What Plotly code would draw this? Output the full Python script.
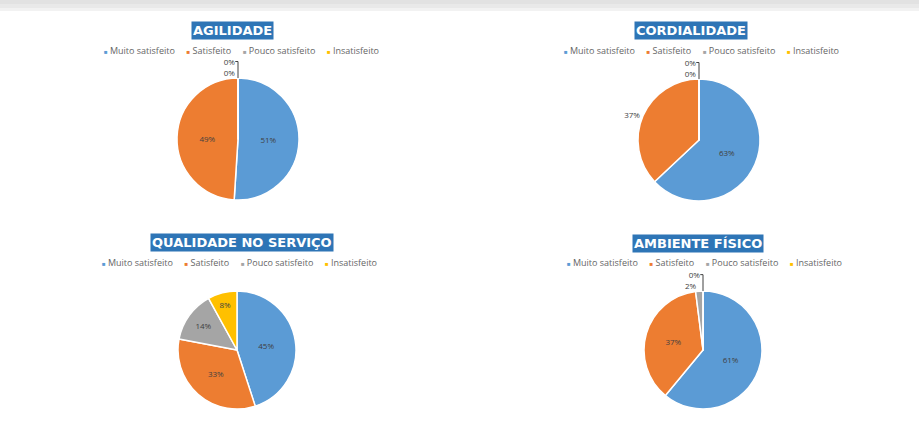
import plotly.graph_objects as go

W, H = 919, 426

categories = ["Muito satisfeito", "Satisfeito", "Pouco satisfeito", "Insatisfeito"]
colors = ["#5B9BD5", "#ED7D31", "#A5A5A5", "#FFC000"]

titles = ["AGILIDADE", "CORDIALIDADE", "QUALIDADE NO SERVIÇO", "AMBIENTE FÍSICO"]
agilidade = [51, 49, 0, 0]
cordialidade = [63, 37, 0, 0]
qualidade = [45, 33, 14, 8]
ambiente = [61, 37, 2, 0]
series = [agilidade, cordialidade, qualidade, ambiente]

textpos = [
    ["inside", "inside", "outside", "outside"],
    ["inside", "outside", "outside", "outside"],
    ["inside", "inside", "inside", "inside"],
    ["inside", "inside", "outside", "outside"],
]

# pixel layout: (cx, cy, r) for pies, title centre, legend centre
pies = [(238, 139, 61), (699, 140, 61), (237, 350, 59), (703, 350, 59)]
title_pos = [(233, 30), (691, 30), (242, 242), (698, 243)]
legend_pos = [(241, 51), (701, 51), (239, 262), (704, 262)]

def px(x):
    return x / W

def py(y):
    return 1 - y / H

fig = go.Figure()
for i, vals in enumerate(series):
    cx, cy, r = pies[i]
    fig.add_trace(go.Pie(
        labels=categories,
        values=vals,
        sort=False,
        direction="clockwise",
        rotation=0,
        marker=dict(colors=colors, line=dict(color="white", width=1.5)),
        texttemplate="%{percent:.0%}",
        textposition=textpos[i],
        insidetextorientation="horizontal",
        textfont=dict(size=8, color="#404040", family="Open Sans"),
        domain=dict(x=[px(cx - r), px(cx + r)], y=[py(cy + r), py(cy - r)]),
        showlegend=False,
        hoverinfo="label+percent",
    ))

annotations = []
for t, (tx, ty) in zip(titles, title_pos):
    annotations.append(dict(
        text=f"<b>{t}</b>", x=px(tx), y=py(ty), xref="paper", yref="paper",
        xanchor="center", yanchor="middle", showarrow=False,
        font=dict(size=13, color="white", family="DejaVu Sans"),
        bgcolor="#2E75B6", borderpad=1,
    ))

sep = "\u00a0" * 5
legend_text = sep.join(
    f'<span style="color:{c};font-size:6px">■</span>\u00a0{lab}'
    for lab, c in zip(categories, colors)
)
for lx, ly in legend_pos:
    annotations.append(dict(
        text=legend_text, x=px(lx), y=py(ly), xref="paper", yref="paper",
        xanchor="center", yanchor="middle", showarrow=False,
        font=dict(size=9, color="#666666", family="Open Sans"),
    ))

shapes = [
    dict(type="rect", xref="paper", yref="paper", x0=0, x1=1, y0=py(4), y1=1,
         fillcolor="#e2e2e2", line=dict(width=0), layer="below"),
    dict(type="rect", xref="paper", yref="paper", x0=0, x1=1, y0=py(8), y1=py(4),
         fillcolor="#e9e9e9", line=dict(width=0), layer="below"),
    dict(type="rect", xref="paper", yref="paper", x0=0, x1=1, y0=py(11), y1=py(8),
         fillcolor="#f2f2f2", line=dict(width=0), layer="below"),
]

fig.update_layout(
    width=W, height=H,
    margin=dict(l=0, r=0, t=0, b=0),
    paper_bgcolor="white", plot_bgcolor="white",
    annotations=annotations, shapes=shapes,
)

fig.write_html("out.html", config={"displayModeBar": False},
               post_script="document.body.style.margin='0';")
